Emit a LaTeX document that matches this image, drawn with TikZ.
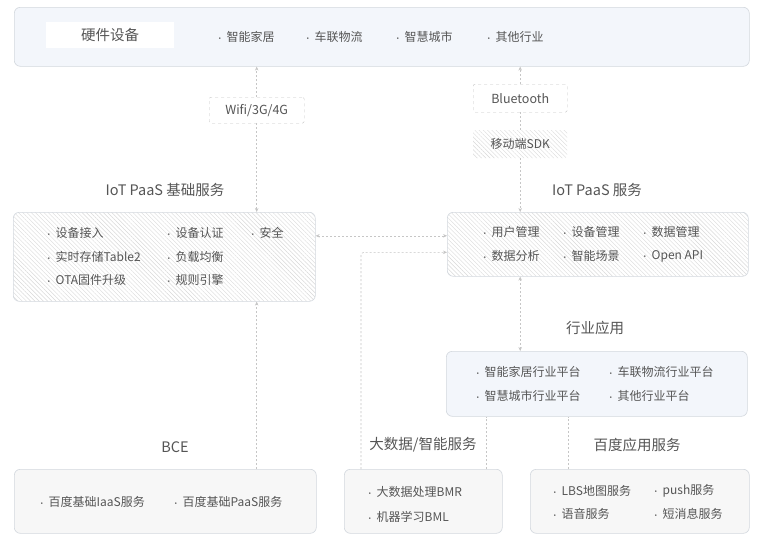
\documentclass[tikz,border=0pt]{standalone}
\usepackage{fontspec}
\setmainfont{Noto Sans CJK SC}
\usetikzlibrary{arrows.meta,patterns.meta}
\definecolor{txt}{HTML}{555555}
\definecolor{edge}{HTML}{D3D8DE}
\definecolor{paleblue}{HTML}{F3F6FB}
\definecolor{palegray}{HTML}{F7F7F7}
\newcommand{\itm}[1]{{\fontsize{7.5}{7}\selectfont\textbullet}\hspace{3pt}#1}
\tikzset{
  panel/.style={draw=edge,line width=0.6pt,rounded corners=6pt,anchor=north west,inner sep=0pt},
  bluepanel/.style={panel,fill=paleblue},
  graypanel/.style={panel,fill=palegray},
  hatched/.style={panel,preaction={fill=white},pattern={Lines[angle=-45,distance=3pt,line width=0.4pt]},pattern color=gray!30},
  tag/.style={draw=gray!45,dashed,rounded corners=2pt,fill=white,anchor=north west,inner sep=0pt,font=\fontsize{12.5}{14}\selectfont,text=txt},
  item/.style={anchor=west,inner sep=0pt,font=\fontsize{12}{14}\selectfont,text=txt},
  title/.style={inner sep=0pt,font=\fontsize{14.5}{16}\selectfont,text=txt},
  link/.style={draw=gray!45,dashed,dash pattern=on 2pt off 2pt,line width=0.6pt}
}
\begin{document}
\begin{tikzpicture}[x=1pt,y=-1pt,>={Stealth[length=4pt,width=3.5pt]}]
\useasboundingbox[fill=white] (0,0) rectangle (758,542);

\node[bluepanel,minimum width=735pt,minimum height=59pt] (hw) at (14,7) {};
\node[anchor=north west,fill=white,minimum width=128pt,minimum height=26pt,inner sep=0pt,
  font=\fontsize{14.5}{16}\selectfont,text=txt] (hwlab) at (46,22) {硬件设备};
\node[item] (hw1) at (216,37) {\itm{智能家居}};
\node[item] (hw2) at (304,37) {\itm{车联物流}};
\node[item] (hw3) at (394,37) {\itm{智慧城市}};
\node[item] (hw4) at (485,37) {\itm{其他行业}};

\node[tag,minimum width=95pt,minimum height=26pt] (wifi) at (209,97) {Wifi/3G/4G};
\node[tag,minimum width=94pt,minimum height=28pt] (bt) at (473,84) {Bluetooth};
\node[hatched,draw=none,rounded corners=2pt,minimum width=94pt,minimum height=28pt,
  font=\fontsize{12}{14}\selectfont,text=txt] (sdk) at (473,130) {移动端SDK};

\node[title] (basetitle) at (165,190) {IoT PaaS 基础服务};
\node[hatched,minimum width=302pt,minimum height=89pt] (base) at (13,212) {};
\node[item] (b1) at (45,233) {\itm{设备接入}};
\node[item] (b2) at (45,257) {\itm{实时存储Table2}};
\node[item] (b3) at (45,280) {\itm{OTA固件升级}};
\node[item] (b4) at (165,233) {\itm{设备认证}};
\node[item] (b5) at (165,257) {\itm{负载均衡}};
\node[item] (b6) at (165,280) {\itm{规则引擎}};
\node[item] (b7) at (249,233) {\itm{安全}};

\node[title] (svctitle) at (597,190) {IoT PaaS 服务};
\node[hatched,minimum width=301pt,minimum height=64pt] (svc) at (447,212) {};
\node[item] (s1) at (481,232) {\itm{用户管理}};
\node[item] (s2) at (561,232) {\itm{设备管理}};
\node[item] (s3) at (641,232) {\itm{数据管理}};
\node[item] (s4) at (481,256) {\itm{数据分析}};
\node[item] (s5) at (561,256) {\itm{智能场景}};
\node[item] (s6) at (641,256) {\itm{Open API}};

\node[title] (indtitle) at (595,328) {行业应用};
\node[bluepanel,minimum width=301pt,minimum height=65pt] (ind) at (446,351) {};
\node[item] (i1) at (474,372) {\itm{智能家居行业平台}};
\node[item] (i2) at (607,372) {\itm{车联物流行业平台}};
\node[item] (i3) at (474,396) {\itm{智慧城市行业平台}};
\node[item] (i4) at (607,396) {\itm{其他行业平台}};

\node[title] (bcetitle) at (175,447) {BCE};
\node[graypanel,minimum width=302pt,minimum height=64pt] (bce) at (14,469) {};
\node[item] (c1) at (38,502) {\itm{百度基础IaaS服务}};
\node[item] (c2) at (172,502) {\itm{百度基础PaaS服务}};

\node[title] (bigdtitle) at (423,445) {大数据/智能服务};
\node[graypanel,minimum width=158pt,minimum height=64pt] (bigd) at (344,469) {};
\node[item] (d1) at (366,492) {\itm{大数据处理BMR}};
\node[item] (d2) at (366,517) {\itm{机器学习BML}};

\node[title] (apptitle) at (637,445) {百度应用服务};
\node[graypanel,minimum width=219pt,minimum height=64pt] (app) at (530,469) {};
\node[item] (a1) at (551,491) {\itm{LBS地图服务}};
\node[item] (a2) at (652,491) {\itm{push服务}};
\node[item] (a3) at (551,514) {\itm{语音服务}};
\node[item] (a4) at (652,514) {\itm{短消息服务}};

\draw[link,->] (wifi.north) -- (wifi.north |- hw.south);
\draw[link,->] (wifi.south) -- (wifi.south |- base.north);
\draw[link,->] (bt.north) -- (bt.north |- hw.south);
\draw[link] (bt.south) -- (sdk.north);
\draw[link,->] (sdk.south) -- (sdk.south |- svc.north);
\draw[link,<->] ([yshift=21pt]base.east) -- ([yshift=21pt]base.east -| svc.west);
\draw[link,->,rounded corners=3pt] ([xshift=17pt]bigd.north west) |- ([yshift=-8pt]svc.west);
\draw[link,<->] (svc.south -| bt.south) -- (ind.north -| bt.south);
\draw[link,->] (bce.north -| wifi.south) -- (base.south -| wifi.south);
\draw[link] ([xshift=-16pt]bigd.north east) coordinate (dl) -- (dl |- ind.south);
\draw[link] ([xshift=38pt]app.north west) coordinate (al) -- (al |- ind.south);
\end{tikzpicture}
\end{document}
